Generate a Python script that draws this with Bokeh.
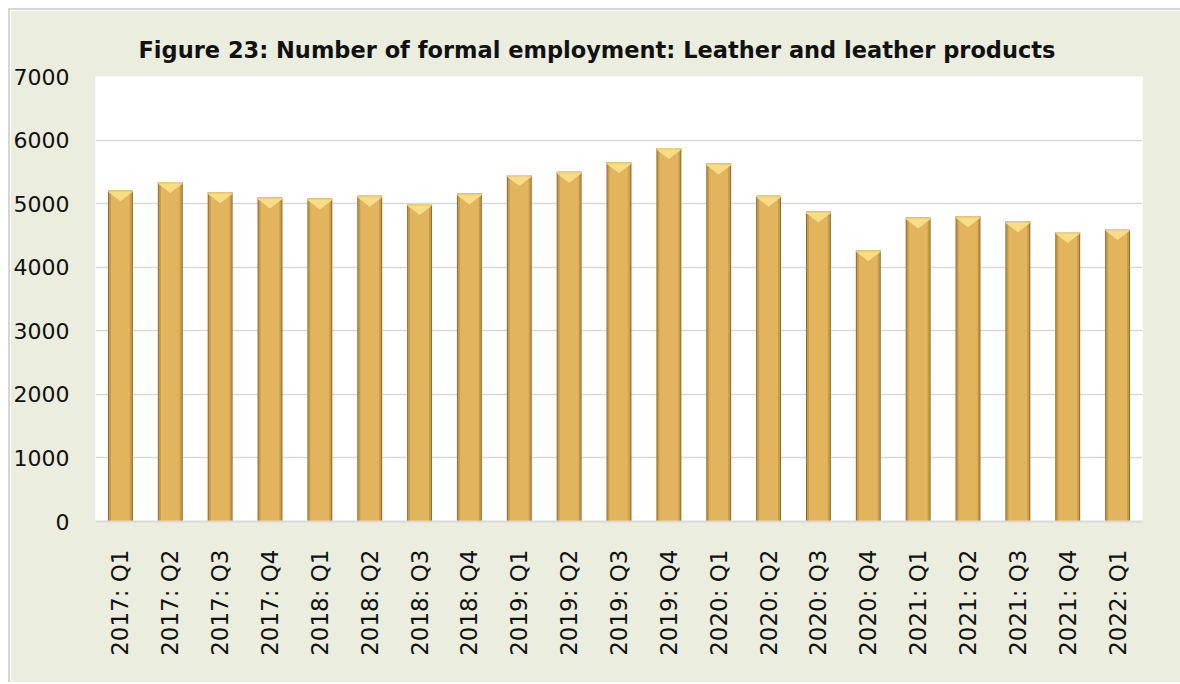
import math
from bokeh.plotting import figure
from bokeh.models import ColumnDataSource, FixedTicker, Range1d
from bokeh.embed import file_html
from bokeh.resources import INLINE

quarters = ["2017: Q1", "2017: Q2", "2017: Q3", "2017: Q4",
            "2018: Q1", "2018: Q2", "2018: Q3", "2018: Q4",
            "2019: Q1", "2019: Q2", "2019: Q3", "2019: Q4",
            "2020: Q1", "2020: Q2", "2020: Q3", "2020: Q4",
            "2021: Q1", "2021: Q2", "2021: Q3", "2021: Q4",
            "2022: Q1"]
employment = [5210, 5340, 5180, 5095, 5080, 5126, 4995, 5158,
              5450, 5503, 5650, 5875, 5630, 5126, 4875, 4268,
              4781, 4801, 4723, 4555, 4602]
y_ticks = [0, 1000, 2000, 3000, 4000, 5000, 6000, 7000]

BG = "#EBEEDF"
FONT = "DejaVu Sans"

frame_h = 445
y_max = 7000
px = y_max / frame_h  # data units per pixel

src = ColumnDataSource(dict(q=quarters, v=employment,
                            band=[v - 1.5 * px for v in employment]))

# bevel cap triangles derived from the data
cap_xs = [[(q, -0.25), (q, 0.25), (q, 0.0)] for q in quarters]
cap_ys = [[v - 1.5 * px, v - 1.5 * px, v - 11 * px] for v in employment]

p = figure(x_range=quarters, y_range=Range1d(0, y_max),
           frame_width=1047, frame_height=frame_h,
           min_border_left=85, min_border_right=38, min_border_top=66,
           min_border_bottom=161,
           output_backend="svg", toolbar_location=None,
           title="Figure 23: Number of formal employment: Leather and leather products")

p.background_fill_color = "white"
p.border_fill_color = BG
p.outline_line_color = None
p.styles = {"border-left": "2px solid #D6D6D6", "border-top": "2px solid #D6D6D6",
            "margin-left": "8px", "margin-top": "8px"}

p.title.text_font = FONT
p.title.text_font_style = "bold"
p.title.text_font_size = "22.5px"
p.title.text_color = "#111111"
p.title.align = "left"
p.title.offset = 43
p.title.standoff = 28

# bars: dark edges, mid shading, main body, light bevel cap
p.vbar(x="q", top="v", width=0.5, source=src, fill_color="#8E6D33", line_color=None)
p.vbar(x="q", top="v", width=0.46, source=src, fill_color="#C89B48", line_color=None)
p.vbar(x="q", top="v", width=0.38, source=src, fill_color="#E3B45E", line_color=None)
p.vbar(x="q", top="v", bottom="band", width=0.5, source=src,
       fill_color="#F3CF72", line_color=None)
p.patches(xs=cap_xs, ys=cap_ys, fill_color="#F8DD86", line_color=None)

p.xgrid.grid_line_color = None
p.ygrid.grid_line_color = "#D9D9D9"
p.ygrid.grid_line_width = 1.5

p.yaxis.ticker = FixedTicker(ticks=y_ticks)
p.yaxis.axis_line_color = None
p.yaxis.major_tick_line_color = None
p.yaxis.minor_tick_line_color = None
p.yaxis.major_label_text_font = FONT
p.yaxis.major_label_text_font_size = "22px"
p.yaxis.major_label_text_color = "#111111"
p.yaxis.major_label_standoff = 20

p.xaxis.axis_line_color = "#D9D9D9"
p.xaxis.axis_line_width = 2
p.xaxis.major_tick_line_color = None
p.xaxis.minor_tick_line_color = None
p.xaxis.major_label_orientation = math.pi / 2
p.xaxis.major_label_text_font = FONT
p.xaxis.major_label_text_font_size = "23px"
p.xaxis.major_label_text_color = "#111111"
p.xaxis.major_label_standoff = 22

open("out.html", "w").write(file_html(p, INLINE))
